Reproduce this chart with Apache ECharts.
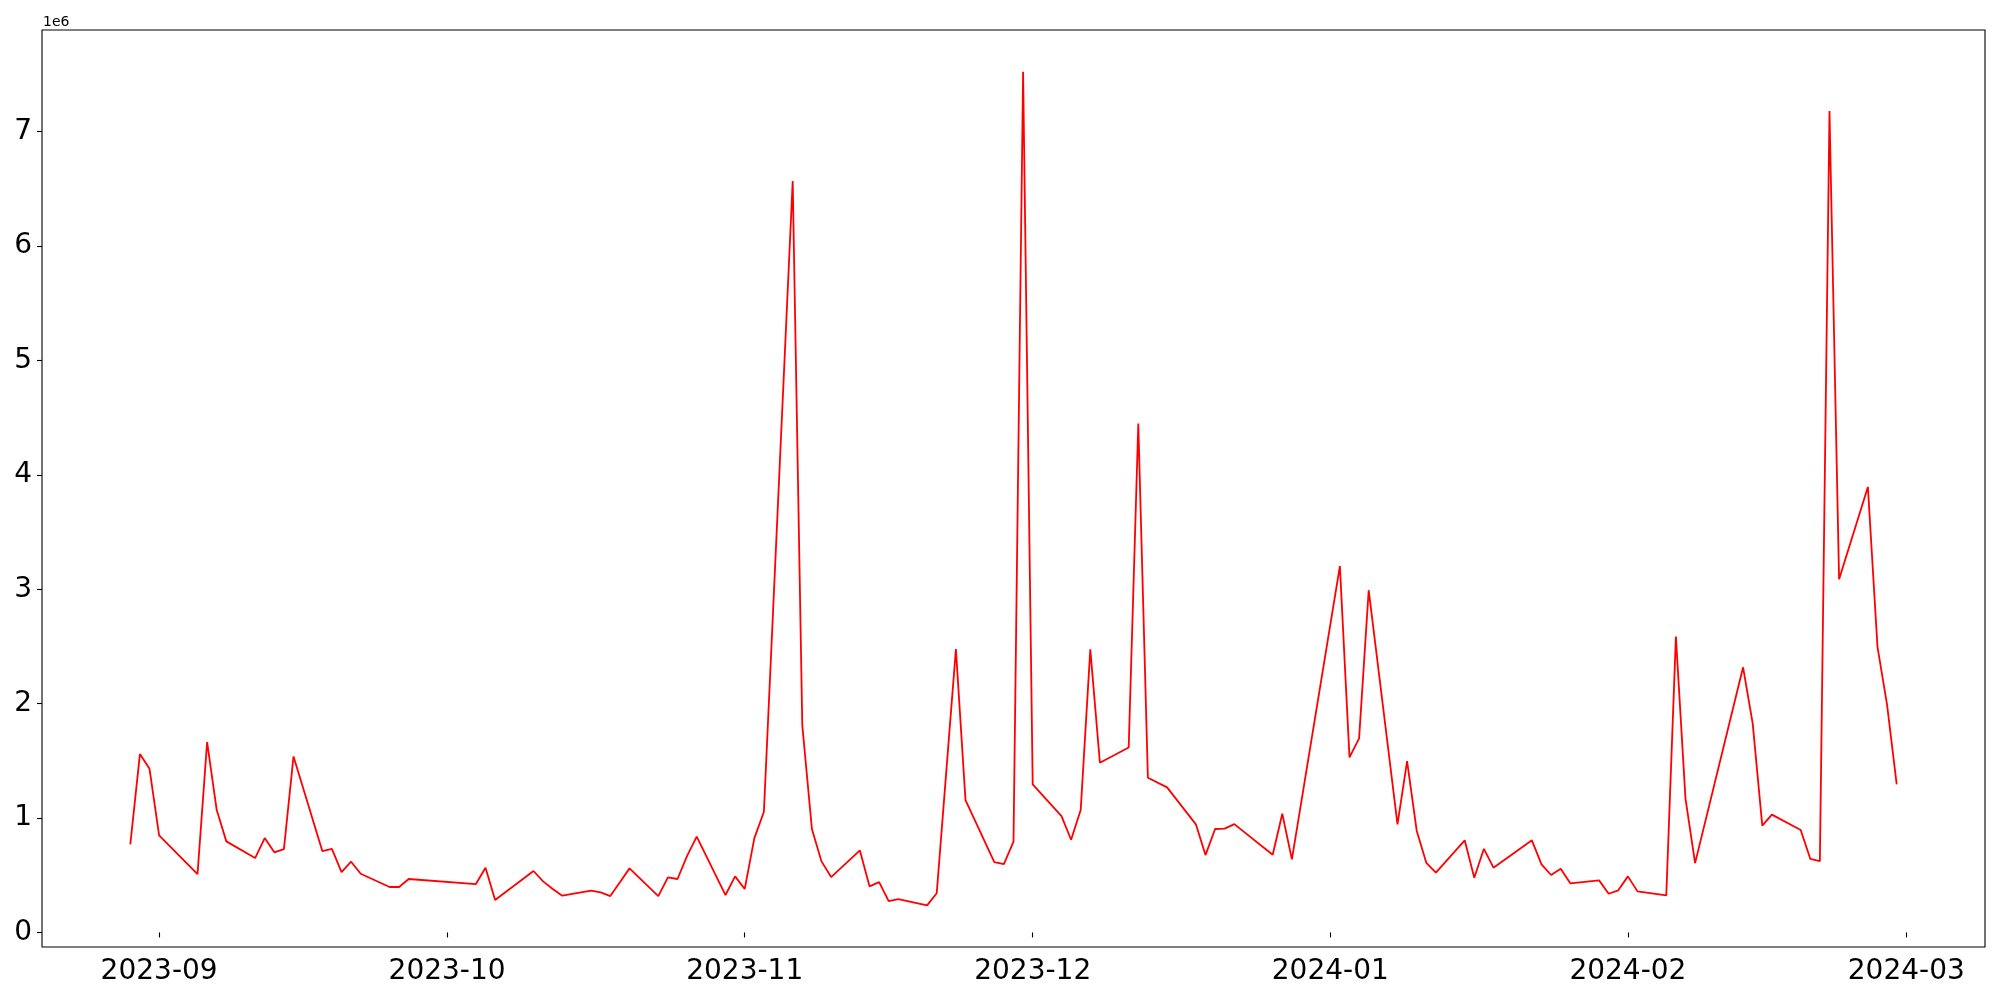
<!DOCTYPE html>
<html>
<head>
<meta charset="utf-8">
<script src="https://cdn.jsdelivr.net/npm/echarts@6/dist/echarts.min.js"></script>
<style>
html,body{margin:0;padding:0;background:#fff;}
#chart{width:2000px;height:1000px;}
</style>
</head>
<body>
<div id="chart"></div>
<script>
// Dates (days present in the data)
const dates = [
"2023-08-29","2023-08-30","2023-08-31","2023-09-01","2023-09-05","2023-09-06","2023-09-07","2023-09-08",
"2023-09-11","2023-09-12","2023-09-13","2023-09-14","2023-09-15","2023-09-18","2023-09-19","2023-09-20",
"2023-09-21","2023-09-22","2023-09-25","2023-09-26","2023-09-27","2023-10-04","2023-10-05","2023-10-06",
"2023-10-10","2023-10-11","2023-10-12","2023-10-13","2023-10-16","2023-10-17","2023-10-18","2023-10-19",
"2023-10-20","2023-10-23","2023-10-24","2023-10-25","2023-10-26","2023-10-27","2023-10-30","2023-10-31",
"2023-11-01","2023-11-02","2023-11-03","2023-11-06","2023-11-07","2023-11-08","2023-11-09","2023-11-10",
"2023-11-13","2023-11-14","2023-11-15","2023-11-16","2023-11-17","2023-11-20","2023-11-21","2023-11-23",
"2023-11-24","2023-11-27","2023-11-28","2023-11-29","2023-11-30","2023-12-01","2023-12-04","2023-12-05",
"2023-12-06","2023-12-07","2023-12-08","2023-12-11","2023-12-12","2023-12-13","2023-12-15","2023-12-18",
"2023-12-19","2023-12-20","2023-12-21","2023-12-22","2023-12-26","2023-12-27","2023-12-28","2024-01-02",
"2024-01-03","2024-01-04","2024-01-05","2024-01-08","2024-01-09","2024-01-10","2024-01-11","2024-01-12",
"2024-01-15","2024-01-16","2024-01-17","2024-01-18","2024-01-22","2024-01-23","2024-01-24","2024-01-25",
"2024-01-26","2024-01-29","2024-01-30","2024-01-31","2024-02-01","2024-02-02","2024-02-05","2024-02-06",
"2024-02-07","2024-02-08","2024-02-13","2024-02-14","2024-02-15","2024-02-16","2024-02-19","2024-02-20",
"2024-02-21","2024-02-22","2024-02-23","2024-02-26","2024-02-27","2024-02-28","2024-02-29"
];
// Values in units of 1e6
const values = [
0.77,1.559,1.43,0.848,0.51,1.664,1.07,0.796,
0.65,0.825,0.70,0.729,1.539,0.711,0.73,0.528,
0.618,0.513,0.397,0.397,0.467,0.423,0.566,0.283,
0.537,0.446,0.379,0.321,0.365,0.35,0.318,0.438,
0.56,0.318,0.481,0.467,0.67,0.837,0.327,0.49,
0.379,0.822,1.055,6.569,1.81,0.904,0.621,0.484,
0.717,0.403,0.44,0.274,0.292,0.237,0.342,2.477,
1.157,0.615,0.598,0.793,7.525,1.294,1.017,0.81,
1.07,2.475,1.483,1.617,4.449,1.352,1.268,0.945,
0.676,0.904,0.907,0.947,0.679,1.037,0.639,3.202,
1.53,1.696,2.992,0.945,1.498,0.889,0.609,0.522,
0.805,0.478,0.731,0.566,0.805,0.595,0.502,0.557,
0.429,0.455,0.338,0.368,0.49,0.359,0.324,2.586,
1.17,0.606,2.318,1.827,0.933,1.03,0.895,0.644,
0.623,7.181,3.088,3.895,2.497,1.99,1.294
];
const xTickLabels = ["2023-09","2023-10","2023-11","2023-12","2024-01","2024-02","2024-03"];
const yTickLabels = [0,1,2,3,4,5,6,7];

function ts(s){ const p = s.split('-').map(Number); return Date.UTC(p[0], p[1]-1, p[2] || 1); }
const t0 = ts(dates[0]), t1 = ts(dates[dates.length-1]);
const xm = (t1 - t0) * 0.05;
const vmin = Math.min(...values), vmax = Math.max(...values);
const ym = (vmax - vmin) * 0.05;

const seriesData = dates.map((d,i)=>[ts(d), values[i]]);
const xTickVals = xTickLabels.map(ts);

const chart = echarts.init(document.getElementById('chart'), null, {renderer:'canvas'});
chart.setOption({
  animation:false,
  backgroundColor:'#fff',
  grid:{left:42, right:15, top:30, height:917, show:true, borderColor:'#000', borderWidth:1.1, containLabel:false},
  xAxis:{
    type:'value', min:t0 - xm, max:t1 + xm, scale:true,
    axisLine:{show:false},
    splitLine:{show:false},
    axisTick:{show:true, length:5, inside:false, lineStyle:{color:'#000', width:1.1}, customValues:xTickVals},
    axisLabel:{show:true, color:'#000', fontSize:28, fontFamily:'DejaVu Sans', margin:11, customValues:xTickVals,
      formatter:function(v){ const d=new Date(v); const m=d.getUTCMonth()+1; return d.getUTCFullYear()+'-'+(m<10?'0':'')+m; }}
  },
  yAxis:{
    type:'value', min:vmin - ym, max:vmax + ym, scale:true,
    axisLine:{show:false},
    splitLine:{show:false},
    axisTick:{show:true, length:5, inside:false, lineStyle:{color:'#000', width:1.1}, customValues:yTickLabels},
    axisLabel:{show:true, color:'#000', fontSize:28, fontFamily:'DejaVu Sans', margin:10, customValues:yTickLabels,
      formatter:function(v){ return String(Math.round(v)); }}
  },
  graphic:[{type:'text', left:43, top:15, style:{text:'1e6', fontSize:14, fontFamily:'DejaVu Sans', fill:'#000'}}],
  series:[{type:'line', data:seriesData, showSymbol:false, symbol:'none',
    lineStyle:{color:'#ff0000', width:1.8}, itemStyle:{color:'#ff0000'}}]
});
</script>
</body>
</html>
